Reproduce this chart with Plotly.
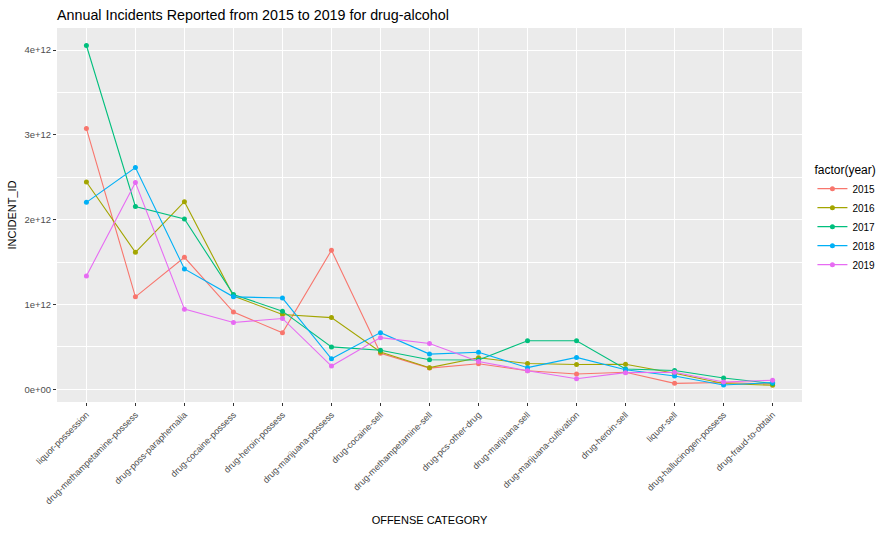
import plotly.graph_objects as go

categories = ["liquor-possession", "drug-methampetamine-possess", "drug-poss-paraphernalia",
              "drug-cocaine-possess", "drug-heroin-possess", "drug-marijuana-possess",
              "drug-cocaine-sell", "drug-methampetamine-sell", "drug-pcs-other-drug",
              "drug-marijuana-sell", "drug-marijuana-cultivation", "drug-heroin-sell",
              "liquor-sell", "drug-hallucinogen-possess", "drug-fraud-to-obtain"]

years = ["2015", "2016", "2017", "2018", "2019"]

# values in units of 1e12
v2015 = [3.074, 1.09, 1.556, 0.911, 0.666, 1.639, 0.424, 0.25, 0.301, 0.219, 0.18, 0.2, 0.07, 0.08, 0.063]
v2016 = [2.444, 1.615, 2.212, 1.10, 0.882, 0.845, 0.44, 0.255, 0.372, 0.304, 0.292, 0.296, 0.19, 0.068, 0.047]
v2017 = [4.054, 2.156, 2.007, 1.117, 0.921, 0.50, 0.46, 0.349, 0.345, 0.572, 0.572, 0.239, 0.221, 0.133, 0.068]
v2018 = [2.204, 2.615, 1.419, 1.09, 1.076, 0.36, 0.668, 0.415, 0.437, 0.255, 0.376, 0.231, 0.156, 0.05, 0.08]
v2019 = [1.337, 2.437, 0.945, 0.788, 0.835, 0.274, 0.609, 0.539, 0.327, 0.219, 0.125, 0.196, 0.2, 0.086, 0.107]

series = [v2015, v2016, v2017, v2018, v2019]
colors = ["#F8766D", "#A3A500", "#00BF7D", "#00B0F6", "#E76BF3"]

ytick_vals = [0, 1e12, 2e12, 3e12, 4e12]
ytick_text = ["0e+00", "1e+12", "2e+12", "3e+12", "4e+12"]
yminor_vals = [0.5e12, 1.5e12, 2.5e12, 3.5e12]

fig = go.Figure()
for yr, vals, col in zip(years, series, colors):
    fig.add_trace(go.Scatter(
        x=categories, y=[v * 1e12 for v in vals], name=yr,
        mode="lines+markers",
        line=dict(color=col, width=1.1),
        marker=dict(color=col, size=5),
    ))

fig.update_layout(
    width=879, height=534,
    margin=dict(l=57, r=77, t=28, b=132, autoexpand=False),
    paper_bgcolor="white",
    plot_bgcolor="#EBEBEB",
    font=dict(family="Liberation Sans, Arial, sans-serif", color="#4D4D4D", size=10),
    title=dict(text="Annual Incidents Reported from 2015 to 2019 for drug-alcohol",
               x=57 / 879, xanchor="left", y=1 - 15 / 534, yanchor="middle",
               font=dict(size=14.3, color="black")),
    showlegend=True,
    legend=dict(x=1.014, xanchor="left", y=0.651, yanchor="top",
                title=dict(text="factor(year)", font=dict(size=12, color="black")),
                font=dict(size=10, color="black"),
                bgcolor="rgba(0,0,0,0)", tracegroupgap=2),
)

fig.update_xaxes(
    type="category", range=[-0.6, 14.6], automargin=False,
    showgrid=True, gridcolor="white", gridwidth=1.1,
    tickangle=-45, ticks="outside", ticklen=3, tickcolor="#333333",
    tickfont=dict(size=9, color="#4D4D4D"),
    title=dict(text="OFFENSE CATEGORY", font=dict(size=11, color="black"), standoff=10),
    zeroline=False, showline=False,
)
fig.update_yaxes(
    range=[-0.15e12, 4.26e12], automargin=False,
    tickvals=ytick_vals, ticktext=ytick_text,
    showgrid=True, gridcolor="white", gridwidth=1.1,
    minor=dict(tickvals=yminor_vals, showgrid=True, gridcolor="white", gridwidth=0.5, ticks=""),
    ticks="outside", ticklen=3, tickcolor="#333333",
    tickfont=dict(size=9.5, color="#4D4D4D"),
    title=dict(text="INCIDENT_ID", font=dict(size=11, color="black"), standoff=5),
    zeroline=False, showline=False,
)

fig.write_html("out.html", config={"displayModeBar": False},
               post_script="document.body.style.margin='0';")
